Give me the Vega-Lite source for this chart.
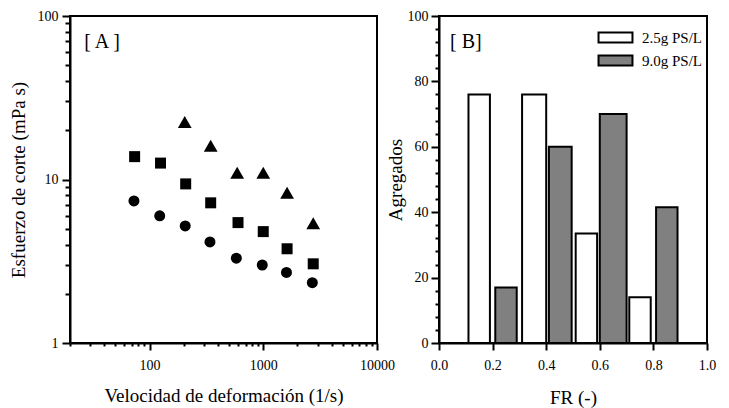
{
  "$schema": "https://vega.github.io/schema/vega-lite/v6.json",
  "background": "white",
  "padding": {"left": 8, "top": 8, "right": 5, "bottom": 2},
  "bounds": "flush",
  "spacing": 62,
  "config": {
    "font": "Liberation Serif",
    "view": {"stroke": "black", "strokeWidth": 2},
    "axis": {
      "labelFont": "Liberation Serif",
      "titleFont": "Liberation Serif",
      "labelFontSize": 14,
      "titleFontSize": 19,
      "titleFontWeight": "normal",
      "labelColor": "black",
      "titleColor": "black",
      "domain": true,
      "domainColor": "black",
      "domainWidth": 2,
      "ticks": true,
      "tickColor": "#000000",
      "tickWidth": 2,
      "tickOpacity": 1,
      "grid": false,
      "labelOverlap": false,
      "labelFlush": false,
      "labelBound": false
    }
  },
  "hconcat": [
    {
      "width": 307,
      "height": 327,
      "resolve": {"axis": {"x": "independent", "y": "independent"}},
      "data": {
        "values": [
          {"serie": "A1", "velocidad": 73, "esfuerzo": 7.4},
          {"serie": "A1", "velocidad": 123, "esfuerzo": 6.0},
          {"serie": "A1", "velocidad": 206, "esfuerzo": 5.2},
          {"serie": "A1", "velocidad": 340, "esfuerzo": 4.15},
          {"serie": "A1", "velocidad": 580, "esfuerzo": 3.3},
          {"serie": "A1", "velocidad": 980, "esfuerzo": 3.0},
          {"serie": "A1", "velocidad": 1600, "esfuerzo": 2.7},
          {"serie": "A1", "velocidad": 2700, "esfuerzo": 2.34},
          {"serie": "A2", "velocidad": 74, "esfuerzo": 13.8},
          {"serie": "A2", "velocidad": 125, "esfuerzo": 12.6},
          {"serie": "A2", "velocidad": 208, "esfuerzo": 9.4},
          {"serie": "A2", "velocidad": 345, "esfuerzo": 7.2},
          {"serie": "A2", "velocidad": 600, "esfuerzo": 5.45},
          {"serie": "A2", "velocidad": 1000, "esfuerzo": 4.8},
          {"serie": "A2", "velocidad": 1620, "esfuerzo": 3.77},
          {"serie": "A2", "velocidad": 2750, "esfuerzo": 3.05},
          {"serie": "A3", "velocidad": 204, "esfuerzo": 22.5},
          {"serie": "A3", "velocidad": 345, "esfuerzo": 16.1},
          {"serie": "A3", "velocidad": 590, "esfuerzo": 11.0},
          {"serie": "A3", "velocidad": 1000, "esfuerzo": 11.0},
          {"serie": "A3", "velocidad": 1620, "esfuerzo": 8.3},
          {"serie": "A3", "velocidad": 2750, "esfuerzo": 5.4}
        ]
      },
      "layer": [
        {
          "transform": [{"filter": "datum.serie != 'A3'"}],
          "mark": {"type": "point", "filled": true, "opacity": 1, "color": "black", "size": 121},
          "encoding": {
            "x": {
              "field": "velocidad",
              "type": "quantitative",
              "title": "Velocidad de deformación (1/s)",
              "scale": {"type": "log", "domain": [20, 10000], "nice": false},
              "axis": {
                "orient": "bottom",
                "values": [100, 1000, 10000],
                "format": "d",
                "tickSize": 7,
                "tickColor": "#000000",
                "labelPadding": 8,
                "titlePadding": 14
              }
            },
            "y": {
              "field": "esfuerzo",
              "type": "quantitative",
              "title": "Esfuerzo de corte (mPa s)",
              "scale": {"type": "log", "domain": [1, 100], "nice": false},
              "axis": {
                "orient": "left",
                "values": [1, 10, 100],
                "format": "d",
                "tickSize": 8,
                "tickColor": "#000000",
                "labelPadding": 4,
                "titlePadding": 9
              }
            },
            "shape": {
              "field": "serie",
              "type": "nominal",
              "scale": {"domain": ["A1", "A2"], "range": ["circle", "square"]},
              "legend": null
            }
          }
        },
        {
          "transform": [{"filter": "datum.serie == 'A3'"}],
          "mark": {"type": "point", "shape": "triangle-up", "filled": true, "opacity": 1, "color": "black", "size": 190},
          "encoding": {
            "x": {"field": "velocidad", "type": "quantitative", "axis": null},
            "y": {"field": "esfuerzo", "type": "quantitative", "axis": null}
          }
        },
        {
          "data": {"values": [{"px": 26.7, "py": 63.5, "etiqueta": "[ A ]"}]},
          "mark": {"type": "text", "align": "left", "baseline": "alphabetic", "font": "Liberation Serif", "fontSize": 20, "color": "black"},
          "encoding": {
            "x": {
              "field": "px",
              "type": "quantitative",
              "axis": {
                "orient": "bottom",
                "values": [20, 30, 40, 50, 60, 70, 80, 90, 200, 300, 400, 500, 600, 700, 800, 900, 2000, 3000, 4000, 5000, 6000, 7000, 8000, 9000],
                "labels": false,
                "domain": false,
                "title": null,
                "tickColor": "#000000",
                "tickSize": 3
              }
            },
            "y": {
              "field": "py",
              "type": "quantitative",
              "axis": {
                "orient": "left",
                "values": [2, 3, 4, 5, 6, 7, 8, 9, 20, 30, 40, 50, 60, 70, 80, 90],
                "labels": false,
                "domain": false,
                "title": null,
                "tickColor": "#000000",
                "tickSize": 5
              }
            },
            "text": {"field": "etiqueta"}
          }
        }
      ]
    },
    {
      "width": 268,
      "height": 327,
      "resolve": {"axis": {"x": "independent", "y": "independent"}},
      "layer": [
        {
          "data": {
            "values": [
              {"grupo": "2.5g PS/L", "FR_ini": 0.11, "FR_fin": 0.19, "agregados": 76},
              {"grupo": "9.0g PS/L", "FR_ini": 0.21, "FR_fin": 0.29, "agregados": 17},
              {"grupo": "2.5g PS/L", "FR_ini": 0.31, "FR_fin": 0.40, "agregados": 76},
              {"grupo": "9.0g PS/L", "FR_ini": 0.41, "FR_fin": 0.495, "agregados": 60},
              {"grupo": "2.5g PS/L", "FR_ini": 0.51, "FR_fin": 0.59, "agregados": 33.5},
              {"grupo": "9.0g PS/L", "FR_ini": 0.60, "FR_fin": 0.70, "agregados": 70},
              {"grupo": "2.5g PS/L", "FR_ini": 0.71, "FR_fin": 0.79, "agregados": 14},
              {"grupo": "9.0g PS/L", "FR_ini": 0.81, "FR_fin": 0.89, "agregados": 41.5}
            ]
          },
          "mark": {"type": "bar", "stroke": "black", "strokeWidth": 2, "opacity": 1},
          "encoding": {
            "x": {
              "field": "FR_ini",
              "type": "quantitative",
              "title": "FR (-)",
              "scale": {"domain": [0, 1], "nice": false},
              "axis": {
                "orient": "bottom",
                "values": [0, 0.2, 0.4, 0.6, 0.8, 1.0],
                "format": ".1f",
                "tickSize": 7,
                "tickColor": "#000000",
                "labelPadding": 8,
                "titlePadding": 16
              }
            },
            "x2": {"field": "FR_fin"},
            "y": {
              "field": "agregados",
              "type": "quantitative",
              "title": "Agregados",
              "scale": {"domain": [0, 100], "nice": false},
              "axis": {
                "orient": "left",
                "values": [0, 20, 40, 60, 80, 100],
                "format": "d",
                "tickSize": 8,
                "tickColor": "#000000",
                "labelPadding": 3,
                "titlePadding": 2
              }
            },
            "y2": {"datum": 0},
            "fill": {
              "field": "grupo",
              "type": "nominal",
              "scale": {"domain": ["2.5g PS/L", "9.0g PS/L"], "range": ["white", "#808080"]},
              "legend": {
                "title": null,
                "orient": "none",
                "legendX": 538,
                "legendY": 14,
                "symbolType": "M-3,-0.9H3V0.9H-3Z",
                "symbolSize": 128,
                "symbolStrokeColor": "black",
                "symbolStrokeWidth": 2,
                "symbolOpacity": 1,
                "labelFont": "Liberation Serif",
                "labelFontSize": 15,
                "labelColor": "black",
                "labelOffset": 19,
                "rowPadding": 4
              }
            }
          }
        },
        {
          "data": {"values": [{"px": 0.041, "py": 90.2, "etiqueta": "[ B]"}]},
          "mark": {"type": "text", "align": "left", "baseline": "alphabetic", "font": "Liberation Serif", "fontSize": 20, "color": "black"},
          "encoding": {
            "x": {"field": "px", "type": "quantitative", "axis": null},
            "y": {
              "field": "py",
              "type": "quantitative",
              "axis": {
                "orient": "left",
                "values": [4, 8, 12, 16, 24, 28, 32, 36, 44, 48, 52, 56, 64, 68, 72, 76, 84, 88, 92, 96],
                "labels": false,
                "domain": false,
                "title": null,
                "tickColor": "#000000",
                "tickSize": 4
              }
            },
            "text": {"field": "etiqueta"}
          }
        }
      ]
    }
  ]
}
